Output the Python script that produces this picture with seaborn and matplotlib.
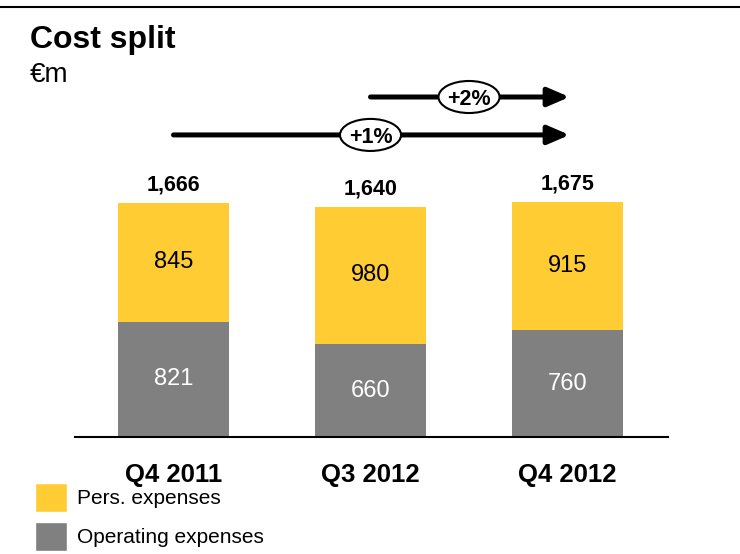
import matplotlib
matplotlib.use('Agg')
import matplotlib.pyplot as plt
import seaborn as sns
import pandas as pd
from matplotlib.patches import Patch, Ellipse
from matplotlib.lines import Line2D

# Data
quarters = ['Q4 2011', 'Q3 2012', 'Q4 2012']
pers_expenses = [845, 980, 915]
operating_expenses = [821, 660, 760]
totals = [1666, 1640, 1675]
growth_labels = ['+1%', '+2%']
growth_from = [0, 1]      # index of start quarter
growth_to = [2, 2]        # index of end quarter

yellow = '#FFCC33'
grey = '#808080'

sns.set_style('white')
plt.rcParams['font.family'] = ['Liberation Sans', 'DejaVu Sans']
plt.rcParams['text.color'] = 'black'
plt.rcParams['xtick.color'] = 'black'
plt.rcParams['xtick.labelcolor'] = 'black'

df = pd.DataFrame({'quarter': quarters, 'pers': pers_expenses,
                   'oper': operating_expenses, 'total': totals})

fig = plt.figure(figsize=(7.4, 5.54), dpi=100)
ax = fig.add_axes([75 / 740, 117 / 554, 593 / 740, 357 / 554])

# stacked bars: full total in yellow, operating part over it in grey
sns.barplot(data=df, x='quarter', y='total', color=yellow, width=0.56,
            saturation=1, ax=ax, linewidth=0)
sns.barplot(data=df, x='quarter', y='oper', color=grey, width=0.56,
            saturation=1, ax=ax, linewidth=0)

ax.set_xlim(-0.5, 2.51)
ax.set_ylim(0, 2541)

for i in range(len(quarters)):
    ax.text(i, operating_expenses[i] / 2, str(operating_expenses[i]),
            ha='center', va='center', color='white', fontsize=17)
    ax.text(i, operating_expenses[i] + pers_expenses[i] / 2, str(pers_expenses[i]),
            ha='center', va='center', color='black', fontsize=17)
    ax.annotate(f'{totals[i]:,}', (i, totals[i]), xytext=(0, 13),
                textcoords='offset points', ha='center', va='center',
                fontsize=15.5, fontweight='bold')

# growth arrows
arrow_y = [2150, 2420]
for lab, a, b, y in zip(growth_labels, growth_from, growth_to, arrow_y):
    ax.annotate('', xy=(b + 0.01, y), xytext=(a, y),
                arrowprops=dict(arrowstyle='-|>,head_length=0.65,head_width=0.28',
                                lw=3.6, color='black', shrinkA=0, shrinkB=0,
                                mutation_scale=20), annotation_clip=False)
    xm = (a + b) / 2 if a == 1 else 1.0
    ax.add_patch(Ellipse((xm, y), 0.31, 228, facecolor='white',
                         edgecolor='black', lw=1.5, zorder=5, clip_on=False))
    ax.text(xm, y, lab, ha='center', va='center_baseline', fontsize=15.5,
            fontweight='bold', zorder=6)

for s in ['top', 'left', 'right']:
    ax.spines[s].set_visible(False)
ax.spines['bottom'].set_color('black')
ax.spines['bottom'].set_linewidth(1.5)
ax.set_yticks([])
ax.set_xlabel('')
ax.set_ylabel('')
ax.tick_params(axis='x', length=0, pad=19, labelsize=18.5)
for t in ax.get_xticklabels():
    t.set_fontweight('bold')

# header
fig.add_artist(Line2D([0, 1], [1 - 7 / 554, 1 - 7 / 554], color='black', lw=1.5))
fig.text(30 / 740, 1 - 40 / 554, 'Cost split', fontsize=23, fontweight='bold',
         va='center', ha='left')
fig.text(30 / 740, 1 - 75 / 554, '€m', fontsize=20, va='center', ha='left')

handles = [Patch(facecolor=yellow, label='Pers. expenses'),
           Patch(facecolor=grey, label='Operating expenses')]
fig.legend(handles=handles, loc='upper left',
           bbox_to_anchor=(35 / 740, 1 - 483 / 554), frameon=False,
           fontsize=15, handlelength=1.55, handleheight=1.75,
           handletextpad=0.45, labelspacing=0.5, borderpad=0, borderaxespad=0)

fig.savefig('out.png', dpi=100)
